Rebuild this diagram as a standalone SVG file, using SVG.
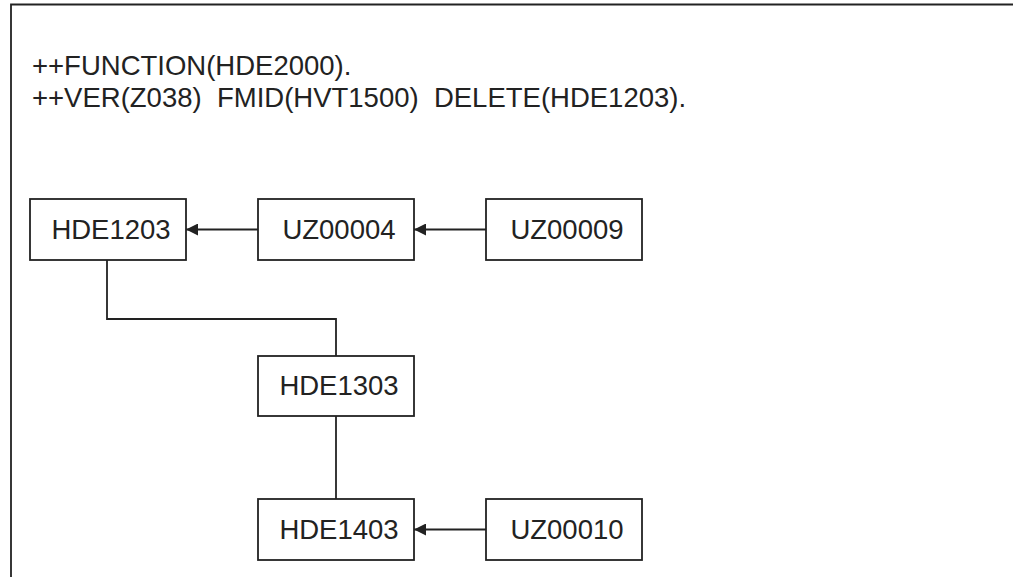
<svg xmlns="http://www.w3.org/2000/svg" width="1013" height="577" viewBox="0 0 1013 577">
<style>
.frame{fill:none;stroke:#222;stroke-width:1.8}
.box{fill:#fff;stroke:#222;stroke-width:1.8}
.lbl{font-family:"Liberation Sans",Arial,sans-serif;font-size:27.5px;fill:#222;text-anchor:middle}
.hdr{font-family:"Liberation Sans",Arial,sans-serif;font-size:27.5px;fill:#222;white-space:pre}
.edge{fill:none;stroke:#222;stroke-width:1.8}
</style>
<defs>
<marker id="arr" viewBox="0 0 12 12" refX="12" refY="6" markerWidth="12" markerHeight="12" markerUnits="userSpaceOnUse" orient="auto">
<path d="M0,0 L12,6 L0,12 Z" fill="#222"/>
</marker>
</defs>
<path class="frame" d="M11,577 V4.5 H1013"/>
<g id="header">
<text class="hdr" x="32" y="75">++FUNCTION(HDE2000).</text>
<text class="hdr" x="32" y="107" xml:space="preserve">++VER(Z038)  FMID(HVT1500)  DELETE(HDE1203).</text>
</g>
<g id="connectors">
<line class="edge" x1="258" y1="229.5" x2="186" y2="229.5" marker-end="url(#arr)"/>
<line class="edge" x1="486" y1="229.5" x2="414" y2="229.5" marker-end="url(#arr)"/>
<path class="edge" d="M107,260 V319 H336 V356"/>
<line class="edge" x1="336" y1="416" x2="336" y2="499"/>
<line class="edge" x1="486" y1="529.5" x2="414" y2="529.5" marker-end="url(#arr)"/>
</g>
<g id="HDE1203">
<rect class="box" x="30" y="199" width="156" height="61"/>
<text class="lbl" x="111" y="239">HDE1203</text>
</g>
<g id="UZ00004">
<rect class="box" x="258" y="199" width="156" height="61"/>
<text class="lbl" x="339" y="239">UZ00004</text>
</g>
<g id="UZ00009">
<rect class="box" x="486" y="199" width="156" height="61"/>
<text class="lbl" x="567" y="239">UZ00009</text>
</g>
<g id="HDE1303">
<rect class="box" x="258" y="356" width="156" height="60"/>
<text class="lbl" x="339" y="395">HDE1303</text>
</g>
<g id="HDE1403">
<rect class="box" x="258" y="499" width="156" height="61"/>
<text class="lbl" x="339" y="539">HDE1403</text>
</g>
<g id="UZ00010">
<rect class="box" x="486" y="499" width="156" height="61"/>
<text class="lbl" x="567" y="539">UZ00010</text>
</g>
</svg>
